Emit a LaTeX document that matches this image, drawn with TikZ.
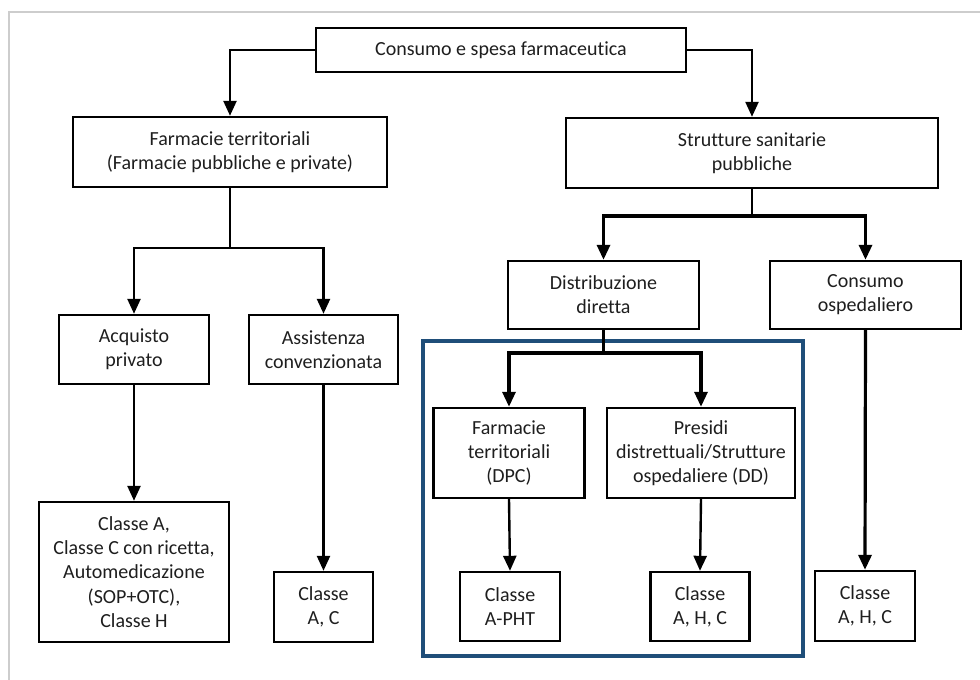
\documentclass[tikz,border=0pt]{standalone}
\usepackage{fontspec}
\setmainfont{Carlito}[Ligatures={NoCommon}]
\usetikzlibrary{arrows.meta}
\definecolor{frameblue}{RGB}{31,78,121}
\definecolor{framegray}{RGB}{205,205,205}
\definecolor{textgray}{RGB}{30,30,30}
\begin{document}
\begin{tikzpicture}[x=0.5pt,y=-0.5pt,
    box/.style={draw,line width=1.2pt,align=center,inner sep=0pt,text=textgray,
      font=\fontsize{10}{12.1}\selectfont},
    link/.style={line width=1.3pt},
    arr/.style={line width=1.2pt,-{Triangle[width=6.5pt,length=7.5pt]}},
    arrthick/.style={line width=1.6pt,-{Triangle[width=6.5pt,length=7.5pt]}}]
    \useasboundingbox (0,0) rectangle (980,680);
    %% Frame
    \draw[framegray,line width=1pt] (9,680) -- (9,12) -- (980,12);
    \draw[frameblue,line width=1.6pt] (423,341) rectangle (803,656);
    %% Top level
    \node[box,minimum width=185pt,minimum height=22pt] (top) at (501,50) {Consumo e spesa farmaceutica};
    \node[box,minimum width=157pt,minimum height=35pt] (farm) at (230,152) {Farmacie territoriali\\(Farmacie pubbliche e private)};
    \node[box,minimum width=186pt,minimum height=35pt] (strutt) at (752,153) {Strutture sanitarie\\pubbliche};
    %% Second level
    \node[box,minimum width=75pt,minimum height=34.5pt] (acq) at (134,349.5) {Acquisto\\privato};
    \node[box,minimum width=74.5pt,minimum height=34.5pt] (ass) at (323.5,349.5) {Assistenza\\convenzionata};
    \node[box,minimum width=95.5pt,minimum height=34pt] (dist) at (603.5,295) {Distribuzione\\diretta};
    \node[box,minimum width=95.5pt,minimum height=34pt] (osp) at (865.5,295) {Consumo\\ospedaliero};
    \node[box,minimum width=75.5pt,minimum height=45pt] (dpc) at (509,453) {Farmacie\\territoriali\\(DPC)};
    \node[box,minimum width=94pt,minimum height=45pt] (dd) at (701,453) {Presidi\\distrettuali/Strutture\\ospedaliere (DD)};
    %% Classes
    \node[box,minimum width=95pt,minimum height=70pt] (clA) at (134,572) {Classe A,\\Classe C con ricetta,\\Automedicazione\\(SOP+OTC),\\Classe H};
    \node[box,minimum width=49.5pt,minimum height=35pt] (clAC) at (323.5,607) {Classe\\A, C};
    \node[box,minimum width=50pt,minimum height=34.5pt] (clPHT) at (510,606.5) {Classe\\A-PHT};
    \node[box,minimum width=49.5pt,minimum height=34.5pt] (clDD) at (700,606.5) {Classe\\A, H, C};
    \node[box,minimum width=50pt,minimum height=35pt] (clOsp) at (865,606) {Classe\\A, H, C};
    %% Split points
    \coordinate (fsplit) at (230,248);
    \coordinate (ssplit) at (752,216);
    \coordinate (dsplit) at (603.5,353);
    %% Connectors
    \draw[arr] (top.west) -| (farm.north);
    \draw[arr] (top.east) -| (strutt.north);
    \draw[link] (farm.south) -- (fsplit);
    \draw[arr] (fsplit) -| (acq.north);
    \draw[arr] (fsplit) -| (ass.north);
    \draw[link] (strutt.south) -- (ssplit);
    \draw[arrthick] (ssplit) -| (dist.north);
    \draw[arrthick] (ssplit) -| (osp.north);
    \draw[link] (dist.south) -- (dsplit);
    \draw[arrthick] (dsplit) -| (dpc.north);
    \draw[arrthick] (dsplit) -| (dd.north);
    \draw[arr] (acq.south) -- (clA.north);
    \draw[arr] (ass.south) -- (clAC.north);
    \draw[arr] (dpc.south) -- (clPHT.north);
    \draw[arr] (dd.south) -- (clDD.north);
    \draw[arrthick] (osp.south) -- (clOsp.north);
\end{tikzpicture}
\end{document}
